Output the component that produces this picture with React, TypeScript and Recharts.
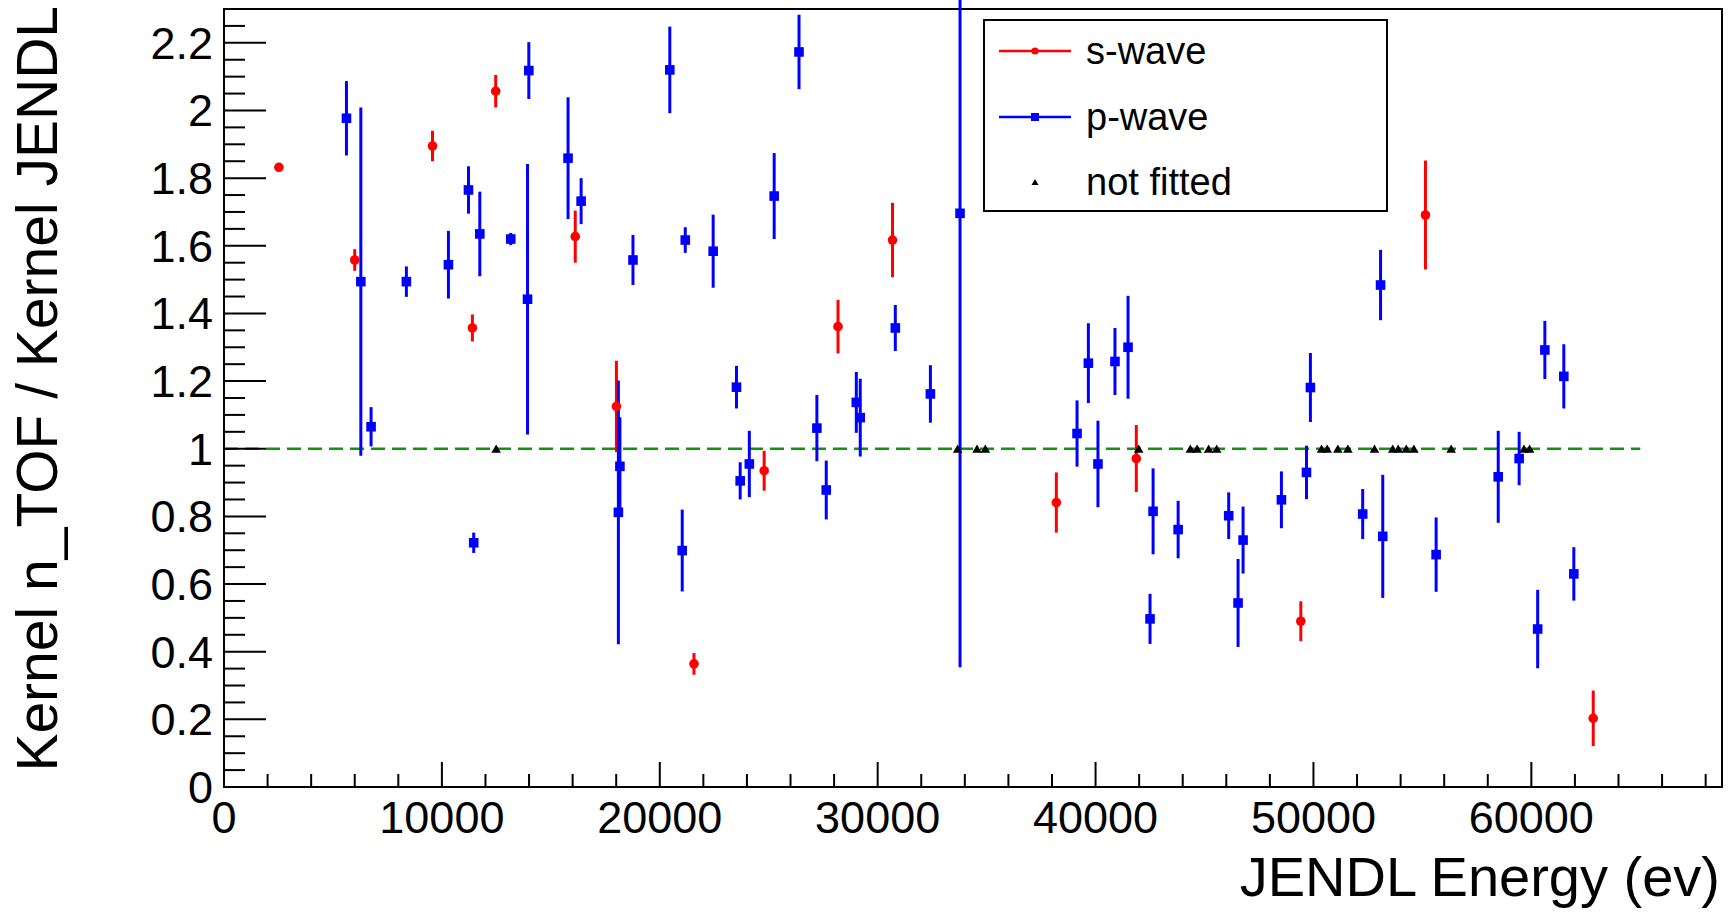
import {
  ErrorBar,
  Legend,
  ReferenceArea,
  ReferenceLine,
  Scatter,
  ScatterChart,
  XAxis,
  YAxis,
} from "recharts";

const FONT = '"Liberation Sans", Arial, Helvetica, sans-serif';

// s-wave resonances: energy (eV), kernel ratio, error
const sWaveEnergy = [2520, 6000, 9570, 11400, 12470, 16120, 18010, 21570, 24790, 28180, 30680, 38200, 41870, 49420, 55140, 62840];
const sWaveRatio = [1.832, 1.558, 1.895, 1.357, 2.057, 1.627, 1.125, 0.364, 0.935, 1.361, 1.617, 0.841, 0.971, 0.49, 1.691, 0.203];
const sWaveError = [0.008, 0.032, 0.045, 0.04, 0.048, 0.077, 0.135, 0.032, 0.059, 0.079, 0.11, 0.089, 0.099, 0.059, 0.161, 0.082];

// p-wave resonances
const pWaveEnergy = [
  5620, 6280, 6750, 8370, 10300, 11220, 11740, 11460, 13160, 13990, 13930, 15790, 16390, 18170, 18100, 18770,
  20460, 21030, 21170, 22450, 23520, 23690, 24110, 25250, 26390, 27210, 27640, 29020, 29200, 30810, 32420, 33780,
  39150, 39670, 40110, 40890, 41490, 42500, 42640, 43790, 46110, 46540, 46770, 48530, 49680, 49860, 52260, 53080,
  53180, 55630, 58480, 59440, 60290, 60620, 61490, 61950,
];
const pWaveRatio = [
  1.977, 1.494, 1.065, 1.494, 1.544, 1.765, 1.635, 0.722, 1.62, 2.118, 1.442, 1.859, 1.732, 0.948, 0.812, 1.558,
  2.12, 0.699, 1.617, 1.584, 1.182, 0.905, 0.955, 1.747, 2.173, 1.061, 0.878, 1.137, 1.092, 1.357, 1.162, 1.696,
  1.045, 1.253, 0.955, 1.258, 1.3, 0.497, 0.815, 0.761, 0.802, 0.544, 0.73, 0.849, 0.93, 1.181, 0.807, 1.484,
  0.741, 0.687, 0.917, 0.971, 0.467, 1.292, 1.214, 0.63,
];
const pWaveError = [
  0.11, 0.515, 0.058, 0.045, 0.1, 0.07, 0.125, 0.03, 0.018, 0.084, 0.4, 0.18, 0.068, 0.145, 0.39, 0.074,
  0.128, 0.121, 0.038, 0.108, 0.063, 0.055, 0.098, 0.127, 0.11, 0.098, 0.087, 0.09, 0.115, 0.068, 0.085, 1.342,
  0.098, 0.118, 0.128, 0.099, 0.152, 0.074, 0.127, 0.085, 0.069, 0.13, 0.099, 0.084, 0.079, 0.102, 0.074, 0.104,
  0.182, 0.11, 0.136, 0.079, 0.116, 0.086, 0.095, 0.079,
];

// resonances that were not fitted (ratio fixed at 1)
const notFittedEnergy = [
  12490, 33670, 34560, 34940, 41980, 44350, 44660, 45190, 45560, 50370, 50630, 51120, 51580, 52800, 53640,
  53890, 54260, 54610, 56320, 59660, 59920,
];
const notFittedRatio = 1;

// axes
const X_MAX = 68750;
const Y_MAX = 2.3;
const xMajorTicks = [0, 10000, 20000, 30000, 40000, 50000, 60000];
const yMajorTicks = [0, 0.2, 0.4, 0.6, 0.8, 1, 1.2, 1.4, 1.6, 1.8, 2, 2.2];
const X_MINOR_STEP = 2000;
const Y_MINOR_STEP = 0.05;
const unityLineEnd = 65000;

const xTicks: number[] = [];
for (let i = 0; i * X_MINOR_STEP <= X_MAX; i++) xTicks.push(i * X_MINOR_STEP);
const yTicks: number[] = [];
for (let i = 0; i * Y_MINOR_STEP <= Y_MAX + 1e-9; i++) yTicks.push(Number((i * Y_MINOR_STEP).toFixed(2)));

const sWaveData = sWaveEnergy.map((x, i) => ({ x, y: sWaveRatio[i], err: sWaveError[i] }));
const pWaveData = pWaveEnergy.map((x, i) => ({ x, y: pWaveRatio[i], err: pWaveError[i] }));
const notFittedData = notFittedEnergy.map((x) => ({ x, y: notFittedRatio }));

const series = [
  { name: "s-wave", color: "#ff0000", marker: "circle", line: true },
  { name: "p-wave", color: "#0000ff", marker: "square", line: true },
  { name: "not fitted", color: "#000000", marker: "triangle", line: false },
];

const isMajor = (v: number, list: number[]) => list.some((m) => Math.abs(m - v) < 1e-6);

const XTick = (props: any) => {
  const { x, y, payload } = props;
  const major = isMajor(payload.value, xMajorTicks);
  return (
    <g>
      <line x1={x} y1={y} x2={x} y2={y - (major ? 25 : 13)} stroke="#000" strokeWidth={2} />
      {major && (
        <text x={x} y={y} dy={46} textAnchor="middle" fontSize={45} fontFamily={FONT} fill="#000">
          {payload.value}
        </text>
      )}
    </g>
  );
};

const YTick = (props: any) => {
  const { x, y, payload } = props;
  const major = isMajor(payload.value, yMajorTicks);
  return (
    <g>
      <line x1={x} y1={y} x2={x + (major ? 42 : 21)} y2={y} stroke="#000" strokeWidth={2} />
      {major && (
        <text x={x - 11} y={y} dy={16} textAnchor="end" fontSize={45} fontFamily={FONT} fill="#000">
          {String(Number(payload.value.toFixed(1)))}
        </text>
      )}
    </g>
  );
};

const XTitle = (props: any) => {
  const vb = props.viewBox;
  return (
    <text x={vb.x + vb.width - 2} y={vb.y + 109} textAnchor="end" fontSize={56} fontFamily={FONT} fill="#000">
      JENDL Energy (ev)
    </text>
  );
};

const YTitle = (props: any) => {
  const vb = props.viewBox;
  return (
    <text
      transform={`translate(57, ${vb.y - 3}) rotate(-90)`}
      textAnchor="end"
      fontSize={57}
      fontFamily={FONT}
      fill="#000"
    >
      Kernel n_TOF / Kernel JENDL
    </text>
  );
};

const CircleMark = (p: any) => <circle cx={p.cx} cy={p.cy} r={4.8} fill="#ff0000" />;
const SquareMark = (p: any) => (
  <rect x={p.cx - 4.8} y={p.cy - 4.8} width={9.6} height={9.6} fill="#0000ff" />
);
const TriangleMark = (p: any) => (
  <polygon
    points={`${p.cx - 4.8},${p.cy + 4} ${p.cx + 4.8},${p.cy + 4} ${p.cx},${p.cy - 4.3}`}
    fill="#000"
  />
);

const LegendIcon = ({ color, marker, line }: { color: string; marker: string; line: boolean }) => (
  <svg width={72} height={20} style={{ display: "block" }}>
    {line && <line x1={0} y1={10} x2={72} y2={10} stroke={color} strokeWidth={2.5} />}
    {marker === "circle" && <circle cx={36} cy={10} r={3.6} fill={color} />}
    {marker === "square" && <rect x={32} y={6} width={8} height={8} fill={color} />}
    {marker === "triangle" && <polygon points="32.5,13 39.5,13 36,7" fill={color} />}
  </svg>
);

const LegendBox = () => (
  <div
    style={{
      boxSizing: "border-box",
      width: 405,
      height: 193,
      border: "2px solid #000",
      background: "#fff",
      position: "relative",
      fontFamily: FONT,
    }}
  >
    {series.map((s, i) => (
      <div
        key={s.name}
        style={{
          position: "absolute",
          left: 14,
          top: 30 + i * 65.5 - 20,
          height: 40,
          display: "flex",
          alignItems: "center",
        }}
      >
        <LegendIcon color={s.color} marker={s.marker} line={s.line} />
        <span style={{ marginLeft: 15, fontSize: 38, color: "#000", lineHeight: "40px" }}>{s.name}</span>
      </div>
    ))}
  </div>
);

export default function App() {
  return (
    <div style={{ width: 1735, height: 913, background: "#fff" }}>
      <style>{"body{margin:0;}"}</style>
      <ScatterChart width={1735} height={913} margin={{ top: 9, right: 13, bottom: 0, left: 0 }}>
        <XAxis
          type="number"
          dataKey="x"
          domain={[0, X_MAX]}
          allowDataOverflow
          ticks={xTicks}
          interval={0}
          tickSize={0}
          tickMargin={0}
          tickLine={false}
          axisLine={{ stroke: "#000", strokeWidth: 2 }}
          tick={<XTick />}
          height={126}
          label={{ content: XTitle }}
        />
        <YAxis
          type="number"
          dataKey="y"
          domain={[0, Y_MAX]}
          allowDataOverflow
          ticks={yTicks}
          interval={0}
          tickSize={0}
          tickMargin={0}
          tickLine={false}
          axisLine={{ stroke: "#000", strokeWidth: 2 }}
          tick={<YTick />}
          width={224}
          label={{ content: YTitle }}
        />
        <ReferenceArea x1={0} x2={X_MAX} y1={0} y2={Y_MAX} fill="none" stroke="#000" strokeWidth={2} />
        <ReferenceLine
          segment={[
            { x: 0, y: 1 },
            { x: unityLineEnd, y: 1 },
          ]}
          stroke="#129312"
          strokeWidth={2.6}
          strokeDasharray="14 7"
        />
        <Scatter name="s-wave" data={sWaveData} shape={CircleMark} isAnimationActive={false}>
          <ErrorBar dataKey="err" direction="y" width={0} stroke="#ff0000" strokeWidth={3} isAnimationActive={false} />
        </Scatter>
        <Scatter name="p-wave" data={pWaveData} shape={SquareMark} isAnimationActive={false}>
          <ErrorBar dataKey="err" direction="y" width={0} stroke="#0000ff" strokeWidth={3} isAnimationActive={false} />
        </Scatter>
        <Scatter name="not fitted" data={notFittedData} shape={TriangleMark} isAnimationActive={false} />
        <Legend
          layout="horizontal"
          verticalAlign="middle"
          align="center"
          wrapperStyle={{ position: "absolute", left: 983, top: 19, width: 405, height: 193, margin: 0, padding: 0 }}
          content={() => <LegendBox />}
        />
      </ScatterChart>
    </div>
  );
}
